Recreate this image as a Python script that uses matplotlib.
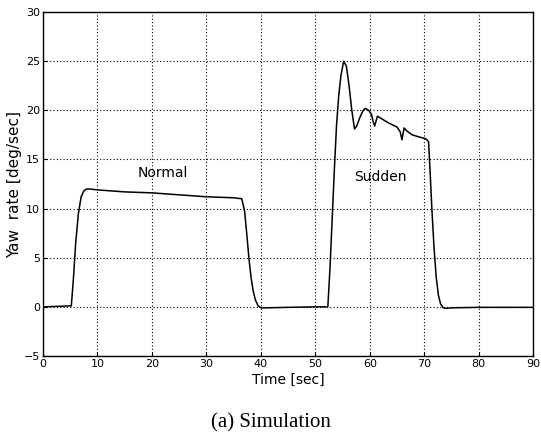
import numpy as np
import matplotlib.pyplot as plt

# yaw rate readings
t_vals = [0, 5.2, 5.6, 6.0, 6.5, 7.0, 7.5, 8.0, 8.5, 10, 15, 20, 25, 30, 35, 36.5,
          37.0, 37.4, 37.8, 38.2, 38.6, 39.0, 39.5, 40.0, 41, 45, 50, 52.3,
          52.7, 53.1, 53.5, 53.9, 54.3, 54.7, 55.2, 55.7, 56.2, 56.7, 57.2, 57.6,
          58.2, 58.8, 59.2, 59.8, 60.3, 60.6, 60.9, 61.4, 62.3, 63.5, 65.0, 65.6,
          65.9, 66.3, 66.8, 67.8, 69.0, 70.3, 70.8, 71.1, 71.4, 71.8, 72.2, 72.6,
          73.0, 73.5, 74.0, 75, 80, 90]
yaw_vals = [0, 0.1, 3.0, 6.5, 9.5, 11.2, 11.8, 12.0, 12.0, 11.9, 11.7, 11.6, 11.4, 11.2, 11.1, 11.0,
            9.8, 7.5, 5.0, 3.0, 1.6, 0.7, 0.1, -0.1, -0.1, -0.05, 0, 0,
            4.0, 9.0, 14.0, 18.5, 21.5, 23.5, 25.0, 24.5, 22.5, 20.0, 18.1, 18.4,
            19.3, 20.0, 20.2, 20.0, 19.6, 18.9, 18.4, 19.4, 19.1, 18.7, 18.3, 17.8,
            17.0, 18.2, 17.9, 17.5, 17.3, 17.1, 16.8, 13.5, 10.0, 6.0, 3.0, 1.2,
            0.3, -0.1, -0.15, -0.1, -0.05, -0.05]

fig = plt.figure(figsize=(5.41, 4.37), dpi=100)
ax = fig.add_axes([0.0795, 0.1854, 0.906, 0.787])
ax.plot(t_vals, yaw_vals, color='black', lw=1.1)

ax.set_xlim(0, 90)
ax.set_ylim(-5, 30)
ax.set_xticks(np.arange(0, 91, 10))
ax.set_yticks(np.arange(-5, 31, 5))
ax.tick_params(direction='in', labelsize=8, length=3, pad=2)
ax.grid(True, color='black', linestyle=(0, (1, 2)), lw=0.8)
for s in ax.spines.values():
    s.set_linewidth(1.0)

ax.text(22, 13.6, "Normal", fontsize=10, ha='center', va='center')
ax.text(62, 13.2, "Sudden", fontsize=10, ha='center', va='center')
ax.set_xlabel("Time [sec]", fontsize=10, labelpad=3)
ax.set_ylabel("Yaw  rate [deg/sec]", fontsize=11, labelpad=1)

fig.text(0.5, 0.032, "(a) Simulation", ha='center', va='center',
         fontsize=15, family='Liberation Serif')

plt.savefig("out.png", dpi=100)
